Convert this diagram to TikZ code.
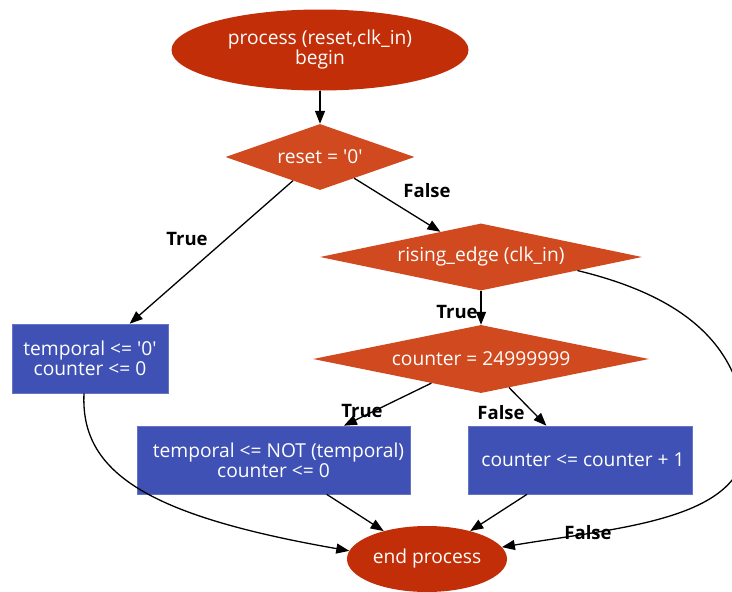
\documentclass[tikz,border=0pt]{standalone}
\usepackage{fontspec}
\setmainfont{Open Sans}[Ligatures=TeXOff]
\usetikzlibrary{shapes.geometric,arrows.meta,calc}

\definecolor{termred}{RGB}{194,46,8}
\definecolor{decorange}{RGB}{209,73,30}
\definecolor{actblue}{RGB}{63,81,181}

\tikzset{
  terminal/.style={ellipse, fill=termred, text=white, inner sep=0pt,
    font=\fontsize{19.2}{20}\selectfont, align=center},
  decision/.style={diamond, fill=decorange, text=white, inner sep=0pt,
    font=\fontsize{19.2}{20}\selectfont, align=center},
  action/.style={rectangle, fill=actblue, draw=actblue!80!white, line width=0.6pt,
    text=white, inner sep=0pt, font=\fontsize{19.2}{20}\selectfont, align=center},
  flow/.style={line width=1.3pt, -{Triangle[length=13pt,width=10pt]}},
  lbl/.style={font=\fontsize{18.5}{20}\selectfont\bfseries, inner sep=0pt}
}

\begin{document}
\begin{tikzpicture}[x=1pt,y=-1pt]
  \useasboundingbox (0,0) rectangle (732,592);

  % nodes
  \node[terminal, minimum width=297pt, minimum height=81pt] (start) at (320,50)
    {process (reset,clk\_in)\\begin};
  \node[decision, aspect=2.86, minimum width=189pt, minimum height=66pt] (reset) at (320,157)
    {reset = '0'};
  \node[decision, aspect=4.8, minimum width=322pt, minimum height=67pt] (rising) at (481,257)
    {rising\_edge (clk\_in)};
  \node[decision, aspect=4.94, minimum width=336pt, minimum height=68pt] (cnt) at (481,359)
    {counter = 24999999};
  \node[action, minimum width=156pt, minimum height=69pt] (rst) at (90,358.5)
    {temporal <= '0'\\counter <= 0};
  \node[action, minimum width=273pt, minimum height=68pt] (toggle) at (273.5,460)
    {\hspace*{10pt}temporal <= NOT (temporal)\\counter <= 0};
  \node[action, minimum width=224pt, minimum height=68pt] (incr) at (580,460)
    {\hspace*{6pt}counter <= counter + 1};
  \node[terminal, minimum width=160pt, minimum height=66pt] (stop) at (427,559)
    {end process};

  % connectors
  \draw[flow] (start) -- (reset);
  \draw[flow] (reset) -- (rst);
  \draw[flow] (reset) -- (rising);
  \draw[flow] (rising) -- (cnt);
  \draw[flow] (cnt) -- (toggle);
  \draw[flow] (cnt) -- (incr);
  \draw[flow] (toggle) -- (stop);
  \draw[flow] (incr) -- (stop);
  \draw[flow] ([xshift=-6pt]rst.south) .. controls +(-4,80) and +(-200,-35) .. (stop.174);
  \draw[flow] (rising.-8) .. controls +(125,30) and +(0,-80) .. (746,440)
    .. controls +(0,80) and +(120,-20) .. (stop.9);

  % branch labels
  \node[lbl] (t1) at (187,239) {True};
  \node[lbl] (f1) at (427,191) {False};
  \node[lbl] (t2) at (457,312) {True};
  \node[lbl] (t3) at (362,411) {True};
  \node[lbl] (f2) at (501,413) {False};
  \node[lbl] (f3) at (588,533) {False};
\end{tikzpicture}
\end{document}
